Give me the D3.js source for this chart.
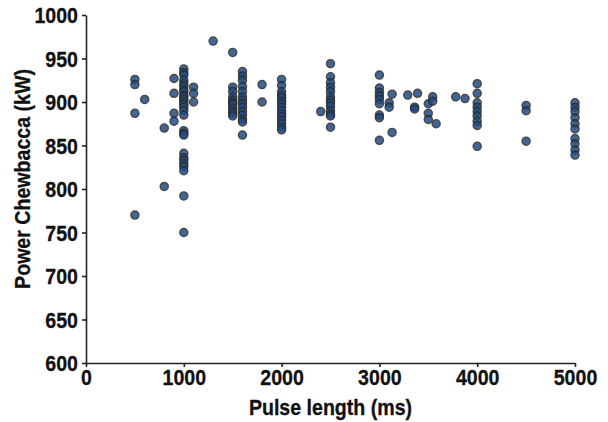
<!DOCTYPE html>
<html>
<head>
<meta charset="utf-8">
<script src="https://cdn.jsdelivr.net/npm/d3@7"></script>
<style>
  html, body { margin: 0; padding: 0; background: #fff; }
  svg text { font-family: "Liberation Sans", Arial, sans-serif; font-weight: bold; fill: #111; stroke: #111; stroke-width: 0.3px; }
</style>
</head>
<body>
<svg id="chart" width="608" height="422"></svg>
<script>
// pulse length (ms) and power (kW), one entry per measurement
const pulseMs = [
  500, 500, 500, 500,
  600,
  800, 800,
  900, 900, 900, 900,
  1000, 1000, 1000, 1000, 1000, 1000, 1000, 1000, 1000, 1000, 1000, 1000, 1000, 1000,
  1000, 1000, 1000, 1000, 1000, 1000, 1000, 1000, 1000, 1000, 1000, 1000, 1000,
  1100, 1100, 1100,
  1300,
  1500, 1500, 1500, 1500, 1500, 1500, 1500, 1500, 1500, 1500, 1500,
  1600, 1600, 1600, 1600, 1600, 1600, 1600, 1600, 1600, 1600, 1600, 1600, 1600, 1600,
  1800, 1800,
  2000, 2000, 2000, 2000, 2000, 2000, 2000, 2000, 2000, 2000, 2000, 2000, 2000, 2000, 2000,
  2400,
  2500, 2500, 2500, 2500, 2500, 2500, 2500, 2500, 2500, 2500, 2500, 2500, 2500,
  3000, 3000, 3000, 3000, 3000, 3000, 3000, 3000, 3000,
  3100, 3100,
  3130, 3130,
  3290,
  3360, 3360,
  3390,
  3500, 3500, 3500,
  3545, 3545,
  3580,
  3780,
  3875,
  4000, 4000, 4000, 4000, 4000, 4000, 4000, 4000, 4000,
  4500, 4500, 4500,
  5000, 5000, 5000, 5000, 5000, 5000, 5000, 5000, 5000, 5000
];
const powerKw = [
  926, 920, 887, 770,
  903,
  870, 803,
  927, 910, 887, 878,
  938, 934, 931, 925, 921, 918, 914, 912, 908, 906, 903, 900, 897, 894,
  890, 885, 867, 864, 862, 841, 836, 833, 829, 826, 821, 792, 750,
  917, 910, 900,
  970,
  957, 917, 912, 906, 902, 899, 897, 893, 890, 887, 884,
  935, 930, 925, 918, 912, 906, 902, 898, 894, 889, 885, 880, 877, 862,
  920, 900,
  926, 919, 912, 908, 905, 901, 898, 894, 890, 886, 883, 879, 875, 871, 868,
  889,
  944, 929, 922, 917, 912, 906, 902, 899, 895, 890, 886, 884, 871,
  931, 916, 911, 907, 903, 898, 885, 882, 856,
  899, 894,
  909, 865,
  908,
  894, 892,
  910,
  898, 887, 880,
  906, 901,
  875,
  906,
  904,
  921, 910, 899, 894, 889, 884, 878, 873, 849,
  896, 890, 855,
  899, 894, 889, 882, 875, 869, 858, 852, 845, 839
];
const xTicks = [0, 1000, 2000, 3000, 4000, 5000];
const yTicks = [600, 650, 700, 750, 800, 850, 900, 950, 1000];

const width = 608, height = 422;
const margin = { top: 15, right: 33, bottom: 59, left: 86 };

const svg = d3.select("#chart");

const x = d3.scaleLinear().domain([0, 5000]).range([margin.left, width - margin.right]);
const y = d3.scaleLinear().domain([600, 1000]).range([height - margin.bottom, margin.top]);

// 坐标轴
const xAxis = svg.append("g")
  .attr("transform", `translate(0,${height - margin.bottom})`)
  .call(d3.axisBottom(x).tickValues(xTicks).tickFormat(d3.format("d")).tickSize(4).tickSizeOuter(0).tickPadding(2));

const yAxis = svg.append("g")
  .attr("transform", `translate(${margin.left},0)`)
  .call(d3.axisLeft(y).tickValues(yTicks).tickFormat(d3.format("d")).tickSize(4).tickSizeOuter(0).tickPadding(4));

[xAxis, yAxis].forEach(g => {
  g.select(".domain").attr("stroke", "#222").attr("stroke-width", 1.6);
  g.selectAll(".tick line").attr("stroke", "#222").attr("stroke-width", 1.6);
  g.selectAll(".tick text").attr("font-size", 22).attr("fill", "#111");
});
yAxis.selectAll(".tick text").attr("dy", "0.36em");

// 轴标题
svg.append("text")
  .attr("x", (margin.left + width - margin.right) / 2)
  .attr("y", 415)
  .attr("text-anchor", "middle")
  .attr("font-size", 22)
  .text("Pulse length (ms)");

svg.append("text")
  .attr("transform", "translate(30,179) rotate(-90)")
  .attr("text-anchor", "middle")
  .attr("font-size", 22)
  .text("Power Chewbacca (kW)");

// 压窄字形（参考图是窄体粗字）
svg.selectAll("text").each(function() {
  const len = this.getComputedTextLength();
  d3.select(this).attr("textLength", len * 0.89).attr("lengthAdjust", "spacingAndGlyphs");
});

// 散点
svg.append("g")
  .selectAll("circle")
  .data(d3.range(pulseMs.length))
  .join("circle")
  .attr("cx", i => x(pulseMs[i]))
  .attr("cy", i => y(powerKw[i]))
  .attr("r", 4)
  .attr("fill", "#1f4c86")
  .attr("stroke", "#2a2a2a")
  .attr("stroke-width", 1.5)
  .attr("opacity", 0.85);
</script>
</body>
</html>
